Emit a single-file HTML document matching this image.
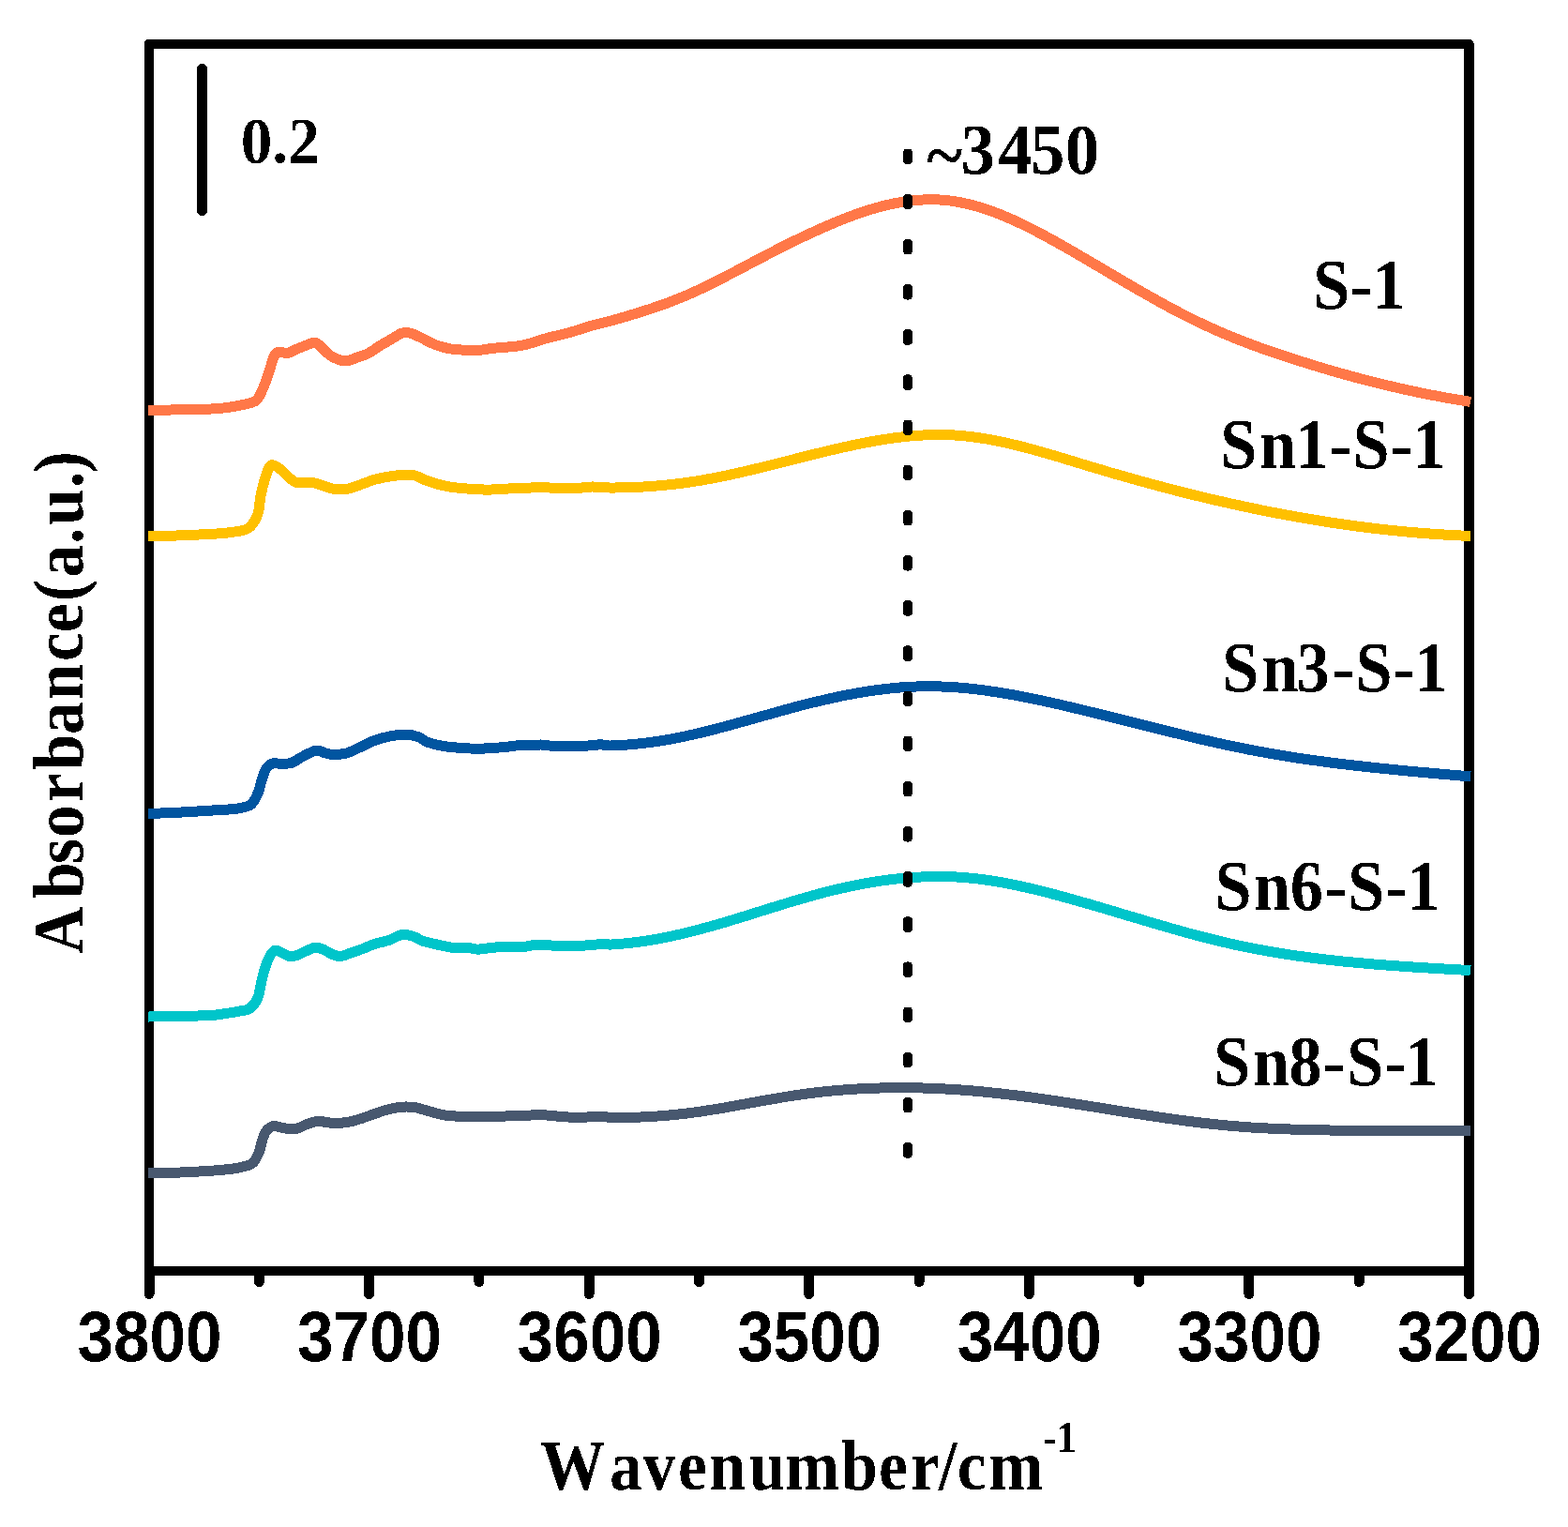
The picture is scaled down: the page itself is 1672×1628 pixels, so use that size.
<!DOCTYPE html>
<html><head><meta charset="utf-8"><style>html,body{margin:0;padding:0;background:#fff;}svg{display:block;}</style></head><body>
<svg width="1672" height="1628" viewBox="0 0 1672 1628" shape-rendering="crispEdges">
<rect width="1672" height="1628" fill="#fff"/>
<defs><filter id="al" x="0" y="0" width="1672" height="1628" filterUnits="userSpaceOnUse"><feComponentTransfer><feFuncA type="discrete" tableValues="0 1"/></feComponentTransfer></filter></defs>
<rect x="159" y="47" width="1407.5" height="1308" fill="none" stroke="#000" stroke-width="10.5" stroke-linejoin="round"/>
<line x1="159.00" y1="1355" x2="159.00" y2="1379.5" stroke="#000" stroke-width="11" stroke-linecap="round"/>
<line x1="276.29" y1="1355" x2="276.29" y2="1366.5" stroke="#000" stroke-width="11" stroke-linecap="round"/>
<line x1="393.58" y1="1355" x2="393.58" y2="1379.5" stroke="#000" stroke-width="11" stroke-linecap="round"/>
<line x1="510.88" y1="1355" x2="510.88" y2="1366.5" stroke="#000" stroke-width="11" stroke-linecap="round"/>
<line x1="628.17" y1="1355" x2="628.17" y2="1379.5" stroke="#000" stroke-width="11" stroke-linecap="round"/>
<line x1="745.46" y1="1355" x2="745.46" y2="1366.5" stroke="#000" stroke-width="11" stroke-linecap="round"/>
<line x1="862.75" y1="1355" x2="862.75" y2="1379.5" stroke="#000" stroke-width="11" stroke-linecap="round"/>
<line x1="980.04" y1="1355" x2="980.04" y2="1366.5" stroke="#000" stroke-width="11" stroke-linecap="round"/>
<line x1="1097.33" y1="1355" x2="1097.33" y2="1379.5" stroke="#000" stroke-width="11" stroke-linecap="round"/>
<line x1="1214.62" y1="1355" x2="1214.62" y2="1366.5" stroke="#000" stroke-width="11" stroke-linecap="round"/>
<line x1="1331.92" y1="1355" x2="1331.92" y2="1379.5" stroke="#000" stroke-width="11" stroke-linecap="round"/>
<line x1="1449.21" y1="1355" x2="1449.21" y2="1366.5" stroke="#000" stroke-width="11" stroke-linecap="round"/>
<line x1="1566.50" y1="1355" x2="1566.50" y2="1379.5" stroke="#000" stroke-width="11" stroke-linecap="round"/>
<path d="M158.0,437.1 C159.9,437.2 163.9,437.4 169.4,437.4 C174.9,437.3 183.7,436.9 190.9,436.8 C198.1,436.7 205.8,436.7 212.4,436.5 C219.0,436.3 224.8,436.1 230.4,435.7 C236.0,435.3 241.1,434.7 245.9,434.0 C250.7,433.3 255.3,432.3 259.1,431.5 C262.9,430.7 266.0,430.1 268.6,429.1 C271.2,428.1 272.5,428.4 274.6,425.5 C276.7,422.6 279.2,417.1 281.4,411.8 C283.6,406.5 286.1,398.8 287.8,393.8 C289.5,388.8 290.0,384.9 291.4,381.9 C292.8,378.8 293.4,376.4 296.0,375.5 C298.6,374.6 303.9,376.9 306.9,376.5 C309.9,376.1 311.1,374.4 314.1,373.1 C317.1,371.8 321.5,370.0 324.9,368.7 C328.3,367.4 332.0,365.7 334.4,365.4 C336.8,365.1 337.2,365.4 339.2,366.9 C341.2,368.3 343.8,371.8 346.4,374.1 C349.0,376.4 351.1,378.7 354.6,380.5 C358.2,382.3 363.3,384.9 367.7,385.0 C372.1,385.1 376.7,382.5 380.9,381.1 C385.1,379.7 388.8,378.7 392.8,376.7 C396.8,374.7 400.8,371.4 404.8,368.9 C408.8,366.4 412.8,364.2 416.8,361.9 C420.8,359.6 425.1,356.2 428.7,355.1 C432.3,354.0 434.9,354.6 438.3,355.4 C441.7,356.2 444.7,358.1 449.1,360.1 C453.5,362.2 459.4,365.7 464.6,367.7 C469.8,369.7 474.6,371.0 480.2,371.9 C485.8,372.8 492.7,373.1 498.1,373.3 C503.5,373.5 508.1,373.5 512.5,373.2 C516.9,372.9 520.6,371.7 524.4,371.3 C528.1,370.9 529.2,371.2 535.0,370.6 C540.8,370.0 550.9,369.5 558.9,367.8 C566.9,366.1 574.8,362.8 582.8,360.6 C590.8,358.4 598.8,356.9 606.8,354.7 C614.8,352.5 623.5,349.2 630.7,347.2 C637.9,345.2 645.8,343.5 650.0,342.4 C654.2,341.3 654.0,341.3 656.0,340.7 C658.0,340.2 660.0,339.6 662.0,339.0 C664.0,338.4 666.0,337.9 668.0,337.3 C670.0,336.7 672.0,336.1 674.0,335.5 C676.0,334.9 678.0,334.3 680.0,333.7 C682.0,333.0 684.0,332.4 686.0,331.8 C688.0,331.1 690.0,330.5 692.0,329.8 C694.0,329.2 696.0,328.5 698.0,327.8 C700.0,327.1 702.0,326.4 704.0,325.7 C706.0,325.0 708.0,324.3 710.0,323.6 C712.0,322.8 714.0,322.1 716.0,321.3 C718.0,320.6 720.0,319.8 722.0,319.0 C724.0,318.2 726.0,317.4 728.0,316.5 C730.0,315.7 732.0,314.9 734.0,314.0 C736.0,313.1 738.0,312.2 740.0,311.3 C742.0,310.4 744.0,309.5 746.0,308.6 C748.0,307.6 750.0,306.7 752.0,305.7 C754.0,304.8 756.0,303.8 758.0,302.8 C760.0,301.8 762.0,300.8 764.0,299.8 C766.0,298.8 768.0,297.8 770.0,296.7 C772.0,295.7 774.0,294.7 776.0,293.6 C778.0,292.6 780.0,291.6 782.0,290.5 C784.0,289.5 786.0,288.4 788.0,287.3 C790.0,286.3 792.0,285.2 794.0,284.2 C796.0,283.1 798.0,282.0 800.0,281.0 C802.0,279.9 804.0,278.9 806.0,277.8 C808.0,276.8 810.0,275.7 812.0,274.7 C814.0,273.6 816.0,272.6 818.0,271.6 C820.0,270.5 822.0,269.5 824.0,268.5 C826.0,267.4 828.0,266.4 830.0,265.4 C832.0,264.4 834.0,263.4 836.0,262.4 C838.0,261.4 840.0,260.4 842.0,259.4 C844.0,258.4 846.0,257.4 848.0,256.4 C850.0,255.5 852.0,254.5 854.0,253.5 C856.0,252.6 858.0,251.6 860.0,250.7 C862.0,249.8 864.0,248.8 866.0,247.9 C868.0,247.0 870.0,246.1 872.0,245.2 C874.0,244.3 876.0,243.4 878.0,242.5 C880.0,241.6 882.0,240.7 884.0,239.9 C886.0,239.0 888.0,238.2 890.0,237.4 C892.0,236.5 894.0,235.7 896.0,234.9 C898.0,234.1 900.0,233.3 902.0,232.5 C904.0,231.8 906.0,231.0 908.0,230.3 C910.0,229.5 912.0,228.8 914.0,228.1 C916.0,227.4 918.0,226.7 920.0,226.0 C922.0,225.4 924.0,224.7 926.0,224.1 C928.0,223.5 930.0,222.9 932.0,222.3 C934.0,221.7 936.0,221.1 938.0,220.6 C940.0,220.1 942.0,219.5 944.0,219.0 C946.0,218.6 948.0,218.1 950.0,217.7 C952.0,217.2 954.0,216.8 956.0,216.4 C958.0,216.0 960.0,215.7 962.0,215.4 C964.0,215.0 966.0,214.7 968.0,214.5 C970.0,214.2 972.0,214.0 974.0,213.7 C976.0,213.5 978.0,213.4 980.0,213.2 C982.0,213.1 984.0,213.0 986.0,212.9 C988.0,212.8 990.0,212.8 992.0,212.8 C994.0,212.7 996.0,212.8 998.0,212.8 C1000.0,212.9 1002.0,213.0 1004.0,213.1 C1006.0,213.3 1008.0,213.5 1010.0,213.7 C1012.0,213.9 1014.0,214.1 1016.0,214.4 C1018.0,214.7 1020.0,215.0 1022.0,215.4 C1024.0,215.8 1026.0,216.2 1028.0,216.6 C1030.0,217.0 1032.0,217.5 1034.0,218.0 C1036.0,218.5 1038.0,219.0 1040.0,219.6 C1042.0,220.1 1044.0,220.7 1046.0,221.3 C1048.0,222.0 1050.0,222.6 1052.0,223.3 C1054.0,224.0 1056.0,224.7 1058.0,225.4 C1060.0,226.1 1062.0,226.9 1064.0,227.6 C1066.0,228.4 1068.0,229.2 1070.0,230.1 C1072.0,230.9 1074.0,231.7 1076.0,232.6 C1078.0,233.5 1080.0,234.4 1082.0,235.3 C1084.0,236.2 1086.0,237.1 1088.0,238.1 C1090.0,239.0 1092.0,240.0 1094.0,241.0 C1096.0,242.0 1098.0,243.0 1100.0,244.0 C1102.0,245.0 1104.0,246.0 1106.0,247.1 C1108.0,248.1 1110.0,249.2 1112.0,250.3 C1114.0,251.3 1116.0,252.4 1118.0,253.5 C1120.0,254.6 1122.0,255.7 1124.0,256.8 C1126.0,257.9 1128.0,259.0 1130.0,260.2 C1132.0,261.3 1134.0,262.4 1136.0,263.6 C1138.0,264.7 1140.0,265.9 1142.0,267.0 C1144.0,268.2 1146.0,269.3 1148.0,270.5 C1150.0,271.7 1152.0,272.8 1154.0,274.0 C1156.0,275.2 1158.0,276.3 1160.0,277.5 C1162.0,278.7 1164.0,279.8 1166.0,281.0 C1168.0,282.2 1170.0,283.4 1172.0,284.6 C1174.0,285.7 1176.0,286.9 1178.0,288.1 C1180.0,289.3 1182.0,290.5 1184.0,291.6 C1186.0,292.8 1188.0,294.0 1190.0,295.2 C1192.0,296.3 1194.0,297.5 1196.0,298.7 C1198.0,299.9 1200.0,301.0 1202.0,302.2 C1204.0,303.4 1206.0,304.5 1208.0,305.7 C1210.0,306.8 1212.0,308.0 1214.0,309.2 C1216.0,310.3 1218.0,311.4 1220.0,312.6 C1222.0,313.7 1224.0,314.9 1226.0,316.0 C1228.0,317.1 1230.0,318.2 1232.0,319.4 C1234.0,320.5 1236.0,321.6 1238.0,322.7 C1240.0,323.8 1242.0,324.9 1244.0,326.0 C1246.0,327.1 1248.0,328.1 1250.0,329.2 C1252.0,330.3 1254.0,331.3 1256.0,332.4 C1258.0,333.4 1260.0,334.4 1262.0,335.5 C1264.0,336.5 1266.0,337.5 1268.0,338.5 C1270.0,339.5 1272.0,340.5 1274.0,341.5 C1276.0,342.5 1278.0,343.4 1280.0,344.4 C1282.0,345.3 1284.0,346.3 1286.0,347.2 C1288.0,348.1 1290.0,349.0 1292.0,349.9 C1294.0,350.8 1296.0,351.7 1298.0,352.6 C1300.0,353.5 1302.0,354.4 1304.0,355.2 C1306.0,356.1 1308.0,356.9 1310.0,357.7 C1312.0,358.6 1314.0,359.4 1316.0,360.2 C1318.0,361.0 1320.0,361.8 1322.0,362.6 C1324.0,363.4 1326.0,364.1 1328.0,364.9 C1330.0,365.7 1332.0,366.4 1334.0,367.2 C1336.0,367.9 1338.0,368.7 1340.0,369.4 C1342.0,370.1 1344.0,370.8 1346.0,371.6 C1348.0,372.3 1350.0,373.0 1352.0,373.7 C1354.0,374.4 1356.0,375.1 1358.0,375.7 C1360.0,376.4 1362.0,377.1 1364.0,377.8 C1366.0,378.5 1368.0,379.1 1370.0,379.8 C1372.0,380.4 1374.0,381.1 1376.0,381.7 C1378.0,382.4 1380.0,383.0 1382.0,383.7 C1384.0,384.3 1386.0,384.9 1388.0,385.6 C1390.0,386.2 1392.0,386.8 1394.0,387.4 C1396.0,388.1 1398.0,388.7 1400.0,389.3 C1402.0,389.9 1404.0,390.5 1406.0,391.1 C1408.0,391.7 1410.0,392.3 1412.0,392.9 C1414.0,393.5 1416.0,394.1 1418.0,394.7 C1420.0,395.2 1422.0,395.8 1424.0,396.4 C1426.0,397.0 1428.0,397.5 1430.0,398.1 C1432.0,398.7 1434.0,399.2 1436.0,399.8 C1438.0,400.3 1440.0,400.9 1442.0,401.4 C1444.0,402.0 1446.0,402.5 1448.0,403.0 C1450.0,403.6 1452.0,404.1 1454.0,404.6 C1456.0,405.1 1458.0,405.6 1460.0,406.2 C1462.0,406.7 1464.0,407.2 1466.0,407.7 C1468.0,408.2 1470.0,408.7 1472.0,409.2 C1474.0,409.7 1476.0,410.1 1478.0,410.6 C1480.0,411.1 1482.0,411.6 1484.0,412.0 C1486.0,412.5 1488.0,413.0 1490.0,413.4 C1492.0,413.9 1494.0,414.3 1496.0,414.8 C1498.0,415.2 1500.0,415.7 1502.0,416.1 C1504.0,416.5 1506.0,417.0 1508.0,417.4 C1510.0,417.8 1512.0,418.2 1514.0,418.6 C1516.0,419.1 1518.0,419.5 1520.0,419.9 C1522.0,420.3 1524.0,420.7 1526.0,421.1 C1528.0,421.4 1530.0,421.8 1532.0,422.2 C1534.0,422.6 1536.0,423.0 1538.0,423.3 C1540.0,423.7 1542.0,424.0 1544.0,424.4 C1546.0,424.8 1548.0,425.1 1550.0,425.4 C1552.0,425.8 1554.0,426.1 1556.0,426.4 C1558.0,426.8 1560.0,427.1 1562.0,427.4 C1564.0,427.7 1567.0,428.2 1568.0,428.4" fill="none" stroke="#FF7848" stroke-width="11" stroke-linejoin="round" stroke-linecap="butt"/>
<path d="M158.0,571.3 C161.5,571.3 171.8,571.3 178.9,571.2 C186.0,571.1 193.5,570.9 200.5,570.6 C207.5,570.3 214.8,569.8 220.8,569.5 C226.8,569.2 231.3,569.1 236.3,568.7 C241.3,568.3 246.7,567.5 250.7,566.9 C254.7,566.3 257.5,566.1 260.3,565.1 C263.1,564.1 264.9,564.0 267.4,561.1 C269.8,558.2 273.3,553.0 275.0,547.8 C276.7,542.6 276.8,535.2 277.8,529.8 C278.8,524.4 279.9,519.9 281.1,515.5 C282.3,511.1 283.4,506.8 284.8,503.5 C286.2,500.2 287.3,496.3 289.6,495.7 C291.9,495.1 295.4,497.7 298.5,499.9 C301.6,502.1 305.1,506.7 308.1,509.1 C311.1,511.5 312.5,513.6 316.5,514.5 C320.5,515.4 327.8,513.9 332.0,514.3 C336.2,514.7 338.0,515.8 341.6,516.9 C345.2,518.0 350.6,520.0 353.6,520.8 C356.6,521.6 356.4,521.8 359.4,521.8 C362.3,521.8 367.1,522.0 371.3,521.1 C375.5,520.2 379.9,518.3 384.5,516.7 C389.1,515.1 393.4,513.0 398.8,511.5 C404.2,510.0 411.0,508.6 416.8,507.7 C422.6,506.8 429.1,506.2 433.5,506.1 C437.9,506.0 439.9,506.2 443.1,507.1 C446.3,508.0 448.1,509.8 452.7,511.5 C457.3,513.2 464.6,515.8 470.6,517.2 C476.6,518.7 481.5,519.4 488.5,520.2 C495.5,521.0 506.5,521.6 512.5,521.9 C518.5,522.2 520.6,522.1 524.4,522.0 C528.1,521.9 529.2,521.6 535.0,521.3 C540.8,521.0 551.9,520.7 558.9,520.4 C565.9,520.1 570.9,519.5 576.9,519.5 C582.9,519.5 588.8,520.4 594.8,520.6 C600.8,520.8 606.8,521.1 612.8,520.8 C618.8,520.5 624.5,519.1 630.7,519.0 C636.9,518.9 645.8,519.9 650.0,520.0 C654.2,520.2 654.0,520.0 656.0,520.0 C658.0,520.0 660.0,520.0 662.0,519.9 C664.0,519.9 666.0,519.8 668.0,519.8 C670.0,519.7 672.0,519.6 674.0,519.6 C676.0,519.5 678.0,519.4 680.0,519.3 C682.0,519.2 684.0,519.1 686.0,519.0 C688.0,518.9 690.0,518.8 692.0,518.6 C694.0,518.5 696.0,518.4 698.0,518.2 C700.0,518.0 702.0,517.9 704.0,517.7 C706.0,517.5 708.0,517.3 710.0,517.1 C712.0,516.9 714.0,516.7 716.0,516.5 C718.0,516.3 720.0,516.1 722.0,515.8 C724.0,515.6 726.0,515.3 728.0,515.1 C730.0,514.8 732.0,514.5 734.0,514.2 C736.0,514.0 738.0,513.7 740.0,513.3 C742.0,513.0 744.0,512.7 746.0,512.4 C748.0,512.0 750.0,511.7 752.0,511.3 C754.0,511.0 756.0,510.6 758.0,510.2 C760.0,509.9 762.0,509.5 764.0,509.1 C766.0,508.7 768.0,508.3 770.0,507.9 C772.0,507.5 774.0,507.1 776.0,506.7 C778.0,506.2 780.0,505.8 782.0,505.4 C784.0,504.9 786.0,504.5 788.0,504.0 C790.0,503.6 792.0,503.1 794.0,502.7 C796.0,502.2 798.0,501.7 800.0,501.3 C802.0,500.8 804.0,500.3 806.0,499.8 C808.0,499.3 810.0,498.9 812.0,498.4 C814.0,497.9 816.0,497.4 818.0,496.9 C820.0,496.4 822.0,495.9 824.0,495.4 C826.0,494.9 828.0,494.4 830.0,493.9 C832.0,493.4 834.0,492.9 836.0,492.4 C838.0,491.9 840.0,491.4 842.0,490.9 C844.0,490.3 846.0,489.8 848.0,489.3 C850.0,488.8 852.0,488.3 854.0,487.8 C856.0,487.3 858.0,486.8 860.0,486.3 C862.0,485.8 864.0,485.3 866.0,484.8 C868.0,484.3 870.0,483.8 872.0,483.3 C874.0,482.8 876.0,482.3 878.0,481.9 C880.0,481.4 882.0,480.9 884.0,480.4 C886.0,479.9 888.0,479.5 890.0,479.0 C892.0,478.5 894.0,478.1 896.0,477.6 C898.0,477.2 900.0,476.7 902.0,476.3 C904.0,475.8 906.0,475.4 908.0,475.0 C910.0,474.5 912.0,474.1 914.0,473.7 C916.0,473.3 918.0,472.9 920.0,472.5 C922.0,472.1 924.0,471.7 926.0,471.4 C928.0,471.0 930.0,470.6 932.0,470.3 C934.0,469.9 936.0,469.6 938.0,469.2 C940.0,468.9 942.0,468.6 944.0,468.3 C946.0,468.0 948.0,467.7 950.0,467.4 C952.0,467.1 954.0,466.8 956.0,466.6 C958.0,466.3 960.0,466.1 962.0,465.9 C964.0,465.6 966.0,465.4 968.0,465.2 C970.0,465.0 972.0,464.9 974.0,464.7 C976.0,464.5 978.0,464.4 980.0,464.3 C982.0,464.1 984.0,464.0 986.0,463.9 C988.0,463.8 990.0,463.8 992.0,463.7 C994.0,463.6 996.0,463.6 998.0,463.6 C1000.0,463.6 1002.0,463.5 1004.0,463.6 C1006.0,463.6 1008.0,463.6 1010.0,463.7 C1012.0,463.7 1014.0,463.8 1016.0,463.9 C1018.0,464.0 1020.0,464.2 1022.0,464.3 C1024.0,464.4 1026.0,464.6 1028.0,464.8 C1030.0,465.0 1032.0,465.2 1034.0,465.4 C1036.0,465.7 1038.0,465.9 1040.0,466.2 C1042.0,466.5 1044.0,466.8 1046.0,467.1 C1048.0,467.4 1050.0,467.7 1052.0,468.0 C1054.0,468.4 1056.0,468.7 1058.0,469.1 C1060.0,469.5 1062.0,469.9 1064.0,470.3 C1066.0,470.7 1068.0,471.1 1070.0,471.5 C1072.0,472.0 1074.0,472.4 1076.0,472.9 C1078.0,473.3 1080.0,473.8 1082.0,474.3 C1084.0,474.8 1086.0,475.3 1088.0,475.8 C1090.0,476.3 1092.0,476.8 1094.0,477.3 C1096.0,477.8 1098.0,478.4 1100.0,478.9 C1102.0,479.5 1104.0,480.0 1106.0,480.6 C1108.0,481.1 1110.0,481.7 1112.0,482.3 C1114.0,482.8 1116.0,483.4 1118.0,484.0 C1120.0,484.6 1122.0,485.2 1124.0,485.8 C1126.0,486.3 1128.0,486.9 1130.0,487.5 C1132.0,488.1 1134.0,488.8 1136.0,489.4 C1138.0,490.0 1140.0,490.6 1142.0,491.2 C1144.0,491.8 1146.0,492.4 1148.0,493.0 C1150.0,493.6 1152.0,494.2 1154.0,494.8 C1156.0,495.4 1158.0,496.0 1160.0,496.6 C1162.0,497.3 1164.0,497.9 1166.0,498.5 C1168.0,499.1 1170.0,499.6 1172.0,500.2 C1174.0,500.8 1176.0,501.4 1178.0,502.0 C1180.0,502.6 1182.0,503.2 1184.0,503.8 C1186.0,504.4 1188.0,504.9 1190.0,505.5 C1192.0,506.1 1194.0,506.7 1196.0,507.2 C1198.0,507.8 1200.0,508.4 1202.0,508.9 C1204.0,509.5 1206.0,510.1 1208.0,510.6 C1210.0,511.2 1212.0,511.7 1214.0,512.3 C1216.0,512.8 1218.0,513.4 1220.0,513.9 C1222.0,514.5 1224.0,515.0 1226.0,515.6 C1228.0,516.1 1230.0,516.7 1232.0,517.2 C1234.0,517.7 1236.0,518.3 1238.0,518.8 C1240.0,519.3 1242.0,519.8 1244.0,520.4 C1246.0,520.9 1248.0,521.4 1250.0,521.9 C1252.0,522.4 1254.0,522.9 1256.0,523.5 C1258.0,524.0 1260.0,524.5 1262.0,525.0 C1264.0,525.5 1266.0,526.0 1268.0,526.5 C1270.0,527.0 1272.0,527.5 1274.0,528.0 C1276.0,528.4 1278.0,528.9 1280.0,529.4 C1282.0,529.9 1284.0,530.4 1286.0,530.9 C1288.0,531.3 1290.0,531.8 1292.0,532.3 C1294.0,532.7 1296.0,533.2 1298.0,533.7 C1300.0,534.1 1302.0,534.6 1304.0,535.0 C1306.0,535.5 1308.0,535.9 1310.0,536.4 C1312.0,536.8 1314.0,537.3 1316.0,537.7 C1318.0,538.2 1320.0,538.6 1322.0,539.0 C1324.0,539.5 1326.0,539.9 1328.0,540.3 C1330.0,540.8 1332.0,541.2 1334.0,541.6 C1336.0,542.0 1338.0,542.4 1340.0,542.8 C1342.0,543.3 1344.0,543.7 1346.0,544.1 C1348.0,544.5 1350.0,544.9 1352.0,545.3 C1354.0,545.7 1356.0,546.0 1358.0,546.4 C1360.0,546.8 1362.0,547.2 1364.0,547.6 C1366.0,548.0 1368.0,548.3 1370.0,548.7 C1372.0,549.1 1374.0,549.5 1376.0,549.8 C1378.0,550.2 1380.0,550.5 1382.0,550.9 C1384.0,551.3 1386.0,551.6 1388.0,552.0 C1390.0,552.3 1392.0,552.7 1394.0,553.0 C1396.0,553.3 1398.0,553.7 1400.0,554.0 C1402.0,554.3 1404.0,554.7 1406.0,555.0 C1408.0,555.3 1410.0,555.6 1412.0,555.9 C1414.0,556.3 1416.0,556.6 1418.0,556.9 C1420.0,557.2 1422.0,557.5 1424.0,557.8 C1426.0,558.1 1428.0,558.4 1430.0,558.7 C1432.0,559.0 1434.0,559.2 1436.0,559.5 C1438.0,559.8 1440.0,560.1 1442.0,560.4 C1444.0,560.6 1446.0,560.9 1448.0,561.2 C1450.0,561.4 1452.0,561.7 1454.0,561.9 C1456.0,562.2 1458.0,562.4 1460.0,562.7 C1462.0,562.9 1464.0,563.2 1466.0,563.4 C1468.0,563.7 1470.0,563.9 1472.0,564.1 C1474.0,564.3 1476.0,564.6 1478.0,564.8 C1480.0,565.0 1482.0,565.2 1484.0,565.4 C1486.0,565.6 1488.0,565.8 1490.0,566.0 C1492.0,566.2 1494.0,566.4 1496.0,566.6 C1498.0,566.8 1500.0,567.0 1502.0,567.2 C1504.0,567.4 1506.0,567.5 1508.0,567.7 C1510.0,567.9 1512.0,568.1 1514.0,568.2 C1516.0,568.4 1518.0,568.5 1520.0,568.7 C1522.0,568.8 1524.0,569.0 1526.0,569.1 C1528.0,569.3 1530.0,569.4 1532.0,569.5 C1534.0,569.7 1536.0,569.8 1538.0,569.9 C1540.0,570.1 1542.0,570.2 1544.0,570.3 C1546.0,570.4 1548.0,570.5 1550.0,570.6 C1552.0,570.7 1554.0,570.8 1556.0,570.9 C1558.0,571.0 1560.0,571.1 1562.0,571.2 C1564.0,571.2 1567.0,571.4 1568.0,571.4" fill="none" stroke="#FFC000" stroke-width="11" stroke-linejoin="round" stroke-linecap="butt"/>
<path d="M158.0,867.5 C161.5,867.4 171.4,867.0 178.9,866.7 C186.4,866.4 194.8,866.0 202.8,865.5 C210.8,865.0 218.8,864.5 226.8,864.0 C234.8,863.5 244.7,863.1 250.7,862.4 C256.7,861.7 259.7,860.8 262.7,859.9 C265.7,859.0 266.4,859.6 268.6,856.9 C270.8,854.2 274.1,847.9 275.8,843.7 C277.5,839.5 277.7,835.8 279.0,831.8 C280.3,827.8 281.7,822.8 283.6,819.8 C285.5,816.8 287.7,815.0 290.2,814.1 C292.7,813.2 295.1,814.2 298.5,814.1 C301.9,814.0 306.5,814.7 310.5,813.5 C314.5,812.3 318.1,808.9 322.5,806.7 C326.9,804.5 332.8,801.0 336.8,800.3 C340.8,799.6 343.6,802.0 346.4,802.7 C349.2,803.4 349.9,804.2 353.6,804.3 C357.4,804.4 364.3,804.2 368.9,803.2 C373.4,802.2 375.9,800.4 380.9,798.1 C385.9,795.9 392.8,791.9 398.8,789.7 C404.8,787.5 411.0,785.8 416.8,784.7 C422.6,783.6 428.5,782.9 433.5,783.1 C438.5,783.3 443.1,784.6 446.7,785.9 C450.3,787.2 451.0,789.4 455.0,790.9 C459.0,792.4 465.0,794.0 470.6,795.1 C476.2,796.2 482.5,796.7 488.5,797.2 C494.5,797.7 500.5,798.1 506.5,798.2 C512.5,798.3 518.2,798.0 524.4,797.6 C530.6,797.2 539.1,796.4 543.6,795.9 C548.1,795.4 547.8,795.1 551.5,794.9 C555.2,794.7 561.8,795.0 566.0,794.9 C570.2,794.8 572.8,793.9 577.0,794.0 C581.2,794.1 585.7,795.2 591.0,795.5 C596.3,795.8 603.6,796.0 609.0,796.0 C614.4,796.0 618.5,795.6 623.3,795.3 C628.1,795.0 634.9,794.3 637.7,794.0 C640.5,793.7 638.0,793.5 640.0,793.7 C642.0,793.9 647.3,794.8 650.0,795.0 C652.7,795.1 654.0,794.8 656.0,794.7 C658.0,794.7 660.0,794.6 662.0,794.4 C664.0,794.3 666.0,794.2 668.0,794.1 C670.0,793.9 672.0,793.7 674.0,793.6 C676.0,793.4 678.0,793.2 680.0,793.0 C682.0,792.8 684.0,792.6 686.0,792.4 C688.0,792.1 690.0,791.9 692.0,791.6 C694.0,791.4 696.0,791.1 698.0,790.8 C700.0,790.5 702.0,790.2 704.0,789.9 C706.0,789.6 708.0,789.3 710.0,788.9 C712.0,788.6 714.0,788.2 716.0,787.9 C718.0,787.5 720.0,787.1 722.0,786.7 C724.0,786.3 726.0,785.9 728.0,785.5 C730.0,785.1 732.0,784.7 734.0,784.2 C736.0,783.8 738.0,783.3 740.0,782.9 C742.0,782.4 744.0,782.0 746.0,781.5 C748.0,781.0 750.0,780.5 752.0,780.0 C754.0,779.5 756.0,779.0 758.0,778.5 C760.0,778.0 762.0,777.5 764.0,777.0 C766.0,776.5 768.0,775.9 770.0,775.4 C772.0,774.9 774.0,774.3 776.0,773.8 C778.0,773.3 780.0,772.7 782.0,772.2 C784.0,771.6 786.0,771.1 788.0,770.5 C790.0,769.9 792.0,769.4 794.0,768.8 C796.0,768.3 798.0,767.7 800.0,767.1 C802.0,766.6 804.0,766.0 806.0,765.4 C808.0,764.9 810.0,764.3 812.0,763.7 C814.0,763.2 816.0,762.6 818.0,762.1 C820.0,761.5 822.0,760.9 824.0,760.4 C826.0,759.8 828.0,759.3 830.0,758.7 C832.0,758.1 834.0,757.6 836.0,757.0 C838.0,756.5 840.0,756.0 842.0,755.4 C844.0,754.9 846.0,754.3 848.0,753.8 C850.0,753.3 852.0,752.8 854.0,752.2 C856.0,751.7 858.0,751.2 860.0,750.7 C862.0,750.2 864.0,749.7 866.0,749.2 C868.0,748.7 870.0,748.2 872.0,747.8 C874.0,747.3 876.0,746.8 878.0,746.4 C880.0,745.9 882.0,745.4 884.0,745.0 C886.0,744.5 888.0,744.1 890.0,743.7 C892.0,743.2 894.0,742.8 896.0,742.4 C898.0,742.0 900.0,741.6 902.0,741.2 C904.0,740.8 906.0,740.4 908.0,740.1 C910.0,739.7 912.0,739.3 914.0,739.0 C916.0,738.6 918.0,738.3 920.0,737.9 C922.0,737.6 924.0,737.3 926.0,737.0 C928.0,736.7 930.0,736.4 932.0,736.1 C934.0,735.8 936.0,735.6 938.0,735.3 C940.0,735.0 942.0,734.8 944.0,734.6 C946.0,734.3 948.0,734.1 950.0,733.9 C952.0,733.7 954.0,733.5 956.0,733.3 C958.0,733.1 960.0,733.0 962.0,732.8 C964.0,732.7 966.0,732.5 968.0,732.4 C970.0,732.3 972.0,732.2 974.0,732.1 C976.0,732.0 978.0,732.0 980.0,731.9 C982.0,731.8 984.0,731.8 986.0,731.8 C988.0,731.7 990.0,731.7 992.0,731.7 C994.0,731.8 996.0,731.8 998.0,731.8 C1000.0,731.9 1002.0,731.9 1004.0,732.0 C1006.0,732.1 1008.0,732.1 1010.0,732.2 C1012.0,732.3 1014.0,732.5 1016.0,732.6 C1018.0,732.7 1020.0,732.9 1022.0,733.0 C1024.0,733.2 1026.0,733.3 1028.0,733.5 C1030.0,733.7 1032.0,733.9 1034.0,734.1 C1036.0,734.3 1038.0,734.5 1040.0,734.8 C1042.0,735.0 1044.0,735.2 1046.0,735.5 C1048.0,735.7 1050.0,736.0 1052.0,736.3 C1054.0,736.6 1056.0,736.9 1058.0,737.2 C1060.0,737.4 1062.0,737.8 1064.0,738.1 C1066.0,738.4 1068.0,738.7 1070.0,739.1 C1072.0,739.4 1074.0,739.7 1076.0,740.1 C1078.0,740.4 1080.0,740.8 1082.0,741.2 C1084.0,741.5 1086.0,741.9 1088.0,742.3 C1090.0,742.7 1092.0,743.1 1094.0,743.5 C1096.0,743.9 1098.0,744.3 1100.0,744.7 C1102.0,745.1 1104.0,745.5 1106.0,745.9 C1108.0,746.4 1110.0,746.8 1112.0,747.2 C1114.0,747.7 1116.0,748.1 1118.0,748.5 C1120.0,749.0 1122.0,749.4 1124.0,749.9 C1126.0,750.3 1128.0,750.8 1130.0,751.2 C1132.0,751.7 1134.0,752.2 1136.0,752.6 C1138.0,753.1 1140.0,753.6 1142.0,754.0 C1144.0,754.5 1146.0,755.0 1148.0,755.5 C1150.0,755.9 1152.0,756.4 1154.0,756.9 C1156.0,757.4 1158.0,757.9 1160.0,758.4 C1162.0,758.8 1164.0,759.3 1166.0,759.8 C1168.0,760.3 1170.0,760.8 1172.0,761.3 C1174.0,761.8 1176.0,762.3 1178.0,762.8 C1180.0,763.3 1182.0,763.8 1184.0,764.3 C1186.0,764.8 1188.0,765.3 1190.0,765.8 C1192.0,766.3 1194.0,766.8 1196.0,767.3 C1198.0,767.8 1200.0,768.3 1202.0,768.8 C1204.0,769.3 1206.0,769.8 1208.0,770.3 C1210.0,770.8 1212.0,771.3 1214.0,771.8 C1216.0,772.3 1218.0,772.8 1220.0,773.3 C1222.0,773.8 1224.0,774.3 1226.0,774.8 C1228.0,775.3 1230.0,775.8 1232.0,776.3 C1234.0,776.8 1236.0,777.3 1238.0,777.8 C1240.0,778.3 1242.0,778.8 1244.0,779.3 C1246.0,779.8 1248.0,780.3 1250.0,780.8 C1252.0,781.3 1254.0,781.8 1256.0,782.2 C1258.0,782.7 1260.0,783.2 1262.0,783.7 C1264.0,784.2 1266.0,784.7 1268.0,785.1 C1270.0,785.6 1272.0,786.1 1274.0,786.6 C1276.0,787.0 1278.0,787.5 1280.0,788.0 C1282.0,788.4 1284.0,788.9 1286.0,789.3 C1288.0,789.8 1290.0,790.3 1292.0,790.7 C1294.0,791.2 1296.0,791.6 1298.0,792.1 C1300.0,792.5 1302.0,792.9 1304.0,793.4 C1306.0,793.8 1308.0,794.2 1310.0,794.7 C1312.0,795.1 1314.0,795.5 1316.0,795.9 C1318.0,796.4 1320.0,796.8 1322.0,797.2 C1324.0,797.6 1326.0,798.0 1328.0,798.4 C1330.0,798.8 1332.0,799.2 1334.0,799.6 C1336.0,800.0 1338.0,800.3 1340.0,800.7 C1342.0,801.1 1344.0,801.5 1346.0,801.8 C1348.0,802.2 1350.0,802.6 1352.0,802.9 C1354.0,803.3 1356.0,803.6 1358.0,804.0 C1360.0,804.3 1362.0,804.6 1364.0,805.0 C1366.0,805.3 1368.0,805.6 1370.0,806.0 C1372.0,806.3 1374.0,806.6 1376.0,806.9 C1378.0,807.2 1380.0,807.5 1382.0,807.9 C1384.0,808.2 1386.0,808.5 1388.0,808.8 C1390.0,809.1 1392.0,809.3 1394.0,809.6 C1396.0,809.9 1398.0,810.2 1400.0,810.5 C1402.0,810.8 1404.0,811.0 1406.0,811.3 C1408.0,811.6 1410.0,811.9 1412.0,812.1 C1414.0,812.4 1416.0,812.7 1418.0,812.9 C1420.0,813.2 1422.0,813.4 1424.0,813.7 C1426.0,813.9 1428.0,814.2 1430.0,814.4 C1432.0,814.7 1434.0,814.9 1436.0,815.1 C1438.0,815.4 1440.0,815.6 1442.0,815.8 C1444.0,816.1 1446.0,816.3 1448.0,816.5 C1450.0,816.8 1452.0,817.0 1454.0,817.2 C1456.0,817.4 1458.0,817.6 1460.0,817.8 C1462.0,818.1 1464.0,818.3 1466.0,818.5 C1468.0,818.7 1470.0,818.9 1472.0,819.1 C1474.0,819.3 1476.0,819.5 1478.0,819.7 C1480.0,819.9 1482.0,820.1 1484.0,820.3 C1486.0,820.5 1488.0,820.7 1490.0,820.9 C1492.0,821.1 1494.0,821.3 1496.0,821.5 C1498.0,821.7 1500.0,821.9 1502.0,822.1 C1504.0,822.2 1506.0,822.4 1508.0,822.6 C1510.0,822.8 1512.0,823.0 1514.0,823.2 C1516.0,823.3 1518.0,823.5 1520.0,823.7 C1522.0,823.9 1524.0,824.1 1526.0,824.2 C1528.0,824.4 1530.0,824.6 1532.0,824.8 C1534.0,825.0 1536.0,825.1 1538.0,825.3 C1540.0,825.5 1542.0,825.7 1544.0,825.8 C1546.0,826.0 1548.0,826.2 1550.0,826.4 C1552.0,826.5 1554.0,826.7 1556.0,826.9 C1558.0,827.1 1560.0,827.2 1562.0,827.4 C1564.0,827.6 1567.0,827.8 1568.0,827.9" fill="none" stroke="#0155A0" stroke-width="11" stroke-linejoin="round" stroke-linecap="butt"/>
<path d="M158.0,1084.1 C160.5,1083.9 167.4,1083.2 172.9,1083.2 C178.4,1083.2 184.9,1083.9 190.9,1083.9 C196.9,1083.9 202.8,1083.3 208.8,1083.1 C214.8,1082.8 220.8,1082.9 226.8,1082.4 C232.8,1081.9 239.7,1080.7 244.7,1079.9 C249.7,1079.1 253.1,1078.6 256.7,1077.8 C260.3,1077.0 263.2,1077.5 266.2,1075.2 C269.2,1072.9 272.8,1068.6 274.9,1063.7 C277.0,1058.8 277.6,1051.4 279.0,1045.8 C280.4,1040.2 281.6,1034.8 283.2,1030.2 C284.8,1025.6 286.6,1021.1 288.4,1018.3 C290.2,1015.4 291.5,1013.4 293.8,1013.1 C296.1,1012.8 299.5,1015.4 302.1,1016.5 C304.7,1017.6 306.9,1019.4 309.3,1019.7 C311.7,1020.0 313.7,1019.4 316.5,1018.5 C319.3,1017.6 322.9,1015.5 326.1,1014.1 C329.3,1012.7 332.6,1010.7 335.6,1010.3 C338.6,1009.9 341.0,1010.8 344.0,1011.9 C347.0,1013.0 350.5,1015.8 353.6,1017.1 C356.8,1018.4 359.3,1019.8 362.9,1019.6 C366.4,1019.4 370.9,1017.1 374.9,1015.7 C378.9,1014.4 382.9,1013.0 386.9,1011.5 C390.9,1010.0 394.2,1008.1 398.8,1006.6 C403.4,1005.1 409.4,1004.2 414.4,1002.5 C419.4,1000.8 424.3,997.3 428.7,996.6 C433.1,995.9 437.1,997.2 440.7,998.3 C444.3,999.4 446.3,1001.7 450.3,1003.1 C454.3,1004.5 459.2,1005.5 464.6,1006.7 C470.0,1007.9 476.6,1009.6 482.6,1010.3 C488.6,1011.0 495.9,1010.5 500.5,1010.8 C505.1,1011.1 506.1,1012.2 510.1,1012.1 C514.1,1012.0 520.2,1010.7 524.4,1010.3 C528.5,1009.9 529.2,1009.9 535.0,1009.8 C540.8,1009.6 552.9,1009.8 558.9,1009.4 C564.9,1009.0 564.9,1007.6 570.9,1007.4 C576.9,1007.2 586.8,1008.1 594.8,1008.3 C602.8,1008.4 610.7,1008.6 618.7,1008.3 C626.7,1008.0 637.5,1006.7 642.7,1006.5 C647.9,1006.3 647.8,1007.0 650.0,1007.1 C652.2,1007.1 654.0,1006.8 656.0,1006.7 C658.0,1006.6 660.0,1006.4 662.0,1006.3 C664.0,1006.1 666.0,1005.9 668.0,1005.7 C670.0,1005.5 672.0,1005.3 674.0,1005.1 C676.0,1004.8 678.0,1004.6 680.0,1004.3 C682.0,1004.1 684.0,1003.8 686.0,1003.5 C688.0,1003.2 690.0,1002.9 692.0,1002.6 C694.0,1002.2 696.0,1001.9 698.0,1001.6 C700.0,1001.2 702.0,1000.8 704.0,1000.5 C706.0,1000.1 708.0,999.7 710.0,999.3 C712.0,998.9 714.0,998.5 716.0,998.1 C718.0,997.6 720.0,997.2 722.0,996.7 C724.0,996.3 726.0,995.8 728.0,995.4 C730.0,994.9 732.0,994.4 734.0,993.9 C736.0,993.4 738.0,992.9 740.0,992.4 C742.0,991.9 744.0,991.4 746.0,990.9 C748.0,990.3 750.0,989.8 752.0,989.2 C754.0,988.7 756.0,988.1 758.0,987.6 C760.0,987.0 762.0,986.5 764.0,985.9 C766.0,985.3 768.0,984.7 770.0,984.1 C772.0,983.5 774.0,983.0 776.0,982.4 C778.0,981.8 780.0,981.2 782.0,980.5 C784.0,979.9 786.0,979.3 788.0,978.7 C790.0,978.1 792.0,977.5 794.0,976.9 C796.0,976.2 798.0,975.6 800.0,975.0 C802.0,974.4 804.0,973.7 806.0,973.1 C808.0,972.5 810.0,971.9 812.0,971.2 C814.0,970.6 816.0,970.0 818.0,969.4 C820.0,968.7 822.0,968.1 824.0,967.5 C826.0,966.9 828.0,966.2 830.0,965.6 C832.0,965.0 834.0,964.4 836.0,963.8 C838.0,963.2 840.0,962.5 842.0,961.9 C844.0,961.3 846.0,960.7 848.0,960.1 C850.0,959.6 852.0,959.0 854.0,958.4 C856.0,957.8 858.0,957.2 860.0,956.7 C862.0,956.1 864.0,955.5 866.0,955.0 C868.0,954.4 870.0,953.9 872.0,953.3 C874.0,952.8 876.0,952.3 878.0,951.7 C880.0,951.2 882.0,950.7 884.0,950.2 C886.0,949.7 888.0,949.2 890.0,948.7 C892.0,948.3 894.0,947.8 896.0,947.3 C898.0,946.9 900.0,946.4 902.0,946.0 C904.0,945.5 906.0,945.1 908.0,944.7 C910.0,944.3 912.0,943.9 914.0,943.5 C916.0,943.1 918.0,942.7 920.0,942.3 C922.0,942.0 924.0,941.6 926.0,941.3 C928.0,940.9 930.0,940.6 932.0,940.3 C934.0,939.9 936.0,939.6 938.0,939.3 C940.0,939.0 942.0,938.7 944.0,938.5 C946.0,938.2 948.0,937.9 950.0,937.7 C952.0,937.5 954.0,937.2 956.0,937.0 C958.0,936.8 960.0,936.6 962.0,936.4 C964.0,936.2 966.0,936.0 968.0,935.9 C970.0,935.7 972.0,935.6 974.0,935.4 C976.0,935.3 978.0,935.2 980.0,935.1 C982.0,935.0 984.0,934.9 986.0,934.8 C988.0,934.7 990.0,934.7 992.0,934.6 C994.0,934.6 996.0,934.5 998.0,934.5 C1000.0,934.5 1002.0,934.5 1004.0,934.5 C1006.0,934.6 1008.0,934.6 1010.0,934.6 C1012.0,934.7 1014.0,934.8 1016.0,934.8 C1018.0,934.9 1020.0,935.0 1022.0,935.1 C1024.0,935.3 1026.0,935.4 1028.0,935.6 C1030.0,935.7 1032.0,935.9 1034.0,936.1 C1036.0,936.3 1038.0,936.5 1040.0,936.7 C1042.0,936.9 1044.0,937.1 1046.0,937.4 C1048.0,937.6 1050.0,937.9 1052.0,938.2 C1054.0,938.5 1056.0,938.8 1058.0,939.1 C1060.0,939.4 1062.0,939.7 1064.0,940.1 C1066.0,940.4 1068.0,940.8 1070.0,941.1 C1072.0,941.5 1074.0,941.9 1076.0,942.3 C1078.0,942.7 1080.0,943.1 1082.0,943.5 C1084.0,943.9 1086.0,944.3 1088.0,944.8 C1090.0,945.2 1092.0,945.6 1094.0,946.1 C1096.0,946.5 1098.0,947.0 1100.0,947.5 C1102.0,948.0 1104.0,948.4 1106.0,948.9 C1108.0,949.4 1110.0,949.9 1112.0,950.4 C1114.0,950.9 1116.0,951.4 1118.0,951.9 C1120.0,952.5 1122.0,953.0 1124.0,953.5 C1126.0,954.0 1128.0,954.6 1130.0,955.1 C1132.0,955.7 1134.0,956.2 1136.0,956.8 C1138.0,957.3 1140.0,957.9 1142.0,958.4 C1144.0,959.0 1146.0,959.5 1148.0,960.1 C1150.0,960.7 1152.0,961.2 1154.0,961.8 C1156.0,962.4 1158.0,962.9 1160.0,963.5 C1162.0,964.1 1164.0,964.7 1166.0,965.3 C1168.0,965.9 1170.0,966.4 1172.0,967.0 C1174.0,967.6 1176.0,968.2 1178.0,968.8 C1180.0,969.4 1182.0,970.0 1184.0,970.6 C1186.0,971.2 1188.0,971.8 1190.0,972.4 C1192.0,973.0 1194.0,973.6 1196.0,974.2 C1198.0,974.8 1200.0,975.4 1202.0,976.0 C1204.0,976.5 1206.0,977.1 1208.0,977.7 C1210.0,978.3 1212.0,978.9 1214.0,979.5 C1216.0,980.1 1218.0,980.7 1220.0,981.3 C1222.0,981.9 1224.0,982.5 1226.0,983.1 C1228.0,983.7 1230.0,984.3 1232.0,984.9 C1234.0,985.4 1236.0,986.0 1238.0,986.6 C1240.0,987.2 1242.0,987.8 1244.0,988.3 C1246.0,988.9 1248.0,989.5 1250.0,990.1 C1252.0,990.6 1254.0,991.2 1256.0,991.8 C1258.0,992.3 1260.0,992.9 1262.0,993.4 C1264.0,994.0 1266.0,994.5 1268.0,995.1 C1270.0,995.6 1272.0,996.2 1274.0,996.7 C1276.0,997.2 1278.0,997.8 1280.0,998.3 C1282.0,998.8 1284.0,999.3 1286.0,999.8 C1288.0,1000.3 1290.0,1000.8 1292.0,1001.3 C1294.0,1001.8 1296.0,1002.3 1298.0,1002.8 C1300.0,1003.3 1302.0,1003.8 1304.0,1004.3 C1306.0,1004.7 1308.0,1005.2 1310.0,1005.6 C1312.0,1006.1 1314.0,1006.5 1316.0,1007.0 C1318.0,1007.4 1320.0,1007.9 1322.0,1008.3 C1324.0,1008.7 1326.0,1009.1 1328.0,1009.5 C1330.0,1009.9 1332.0,1010.3 1334.0,1010.7 C1336.0,1011.1 1338.0,1011.5 1340.0,1011.9 C1342.0,1012.3 1344.0,1012.6 1346.0,1013.0 C1348.0,1013.4 1350.0,1013.7 1352.0,1014.1 C1354.0,1014.4 1356.0,1014.8 1358.0,1015.1 C1360.0,1015.5 1362.0,1015.8 1364.0,1016.1 C1366.0,1016.4 1368.0,1016.8 1370.0,1017.1 C1372.0,1017.4 1374.0,1017.7 1376.0,1018.0 C1378.0,1018.3 1380.0,1018.6 1382.0,1018.9 C1384.0,1019.2 1386.0,1019.4 1388.0,1019.7 C1390.0,1020.0 1392.0,1020.3 1394.0,1020.5 C1396.0,1020.8 1398.0,1021.1 1400.0,1021.3 C1402.0,1021.6 1404.0,1021.8 1406.0,1022.1 C1408.0,1022.3 1410.0,1022.5 1412.0,1022.8 C1414.0,1023.0 1416.0,1023.2 1418.0,1023.5 C1420.0,1023.7 1422.0,1023.9 1424.0,1024.1 C1426.0,1024.3 1428.0,1024.5 1430.0,1024.8 C1432.0,1025.0 1434.0,1025.2 1436.0,1025.4 C1438.0,1025.6 1440.0,1025.8 1442.0,1025.9 C1444.0,1026.1 1446.0,1026.3 1448.0,1026.5 C1450.0,1026.7 1452.0,1026.9 1454.0,1027.0 C1456.0,1027.2 1458.0,1027.4 1460.0,1027.6 C1462.0,1027.7 1464.0,1027.9 1466.0,1028.1 C1468.0,1028.2 1470.0,1028.4 1472.0,1028.5 C1474.0,1028.7 1476.0,1028.8 1478.0,1029.0 C1480.0,1029.2 1482.0,1029.3 1484.0,1029.4 C1486.0,1029.6 1488.0,1029.7 1490.0,1029.9 C1492.0,1030.0 1494.0,1030.2 1496.0,1030.3 C1498.0,1030.4 1500.0,1030.6 1502.0,1030.7 C1504.0,1030.8 1506.0,1031.0 1508.0,1031.1 C1510.0,1031.2 1512.0,1031.3 1514.0,1031.5 C1516.0,1031.6 1518.0,1031.7 1520.0,1031.8 C1522.0,1032.0 1524.0,1032.1 1526.0,1032.2 C1528.0,1032.3 1530.0,1032.4 1532.0,1032.6 C1534.0,1032.7 1536.0,1032.8 1538.0,1032.9 C1540.0,1033.0 1542.0,1033.1 1544.0,1033.2 C1546.0,1033.4 1548.0,1033.5 1550.0,1033.6 C1552.0,1033.7 1554.0,1033.8 1556.0,1033.9 C1558.0,1034.0 1560.0,1034.2 1562.0,1034.3 C1564.0,1034.4 1567.0,1034.5 1568.0,1034.6" fill="none" stroke="#00C5CA" stroke-width="11" stroke-linejoin="round" stroke-linecap="butt"/>
<path d="M158.0,1250.7 C161.5,1250.7 171.4,1250.7 178.9,1250.5 C186.4,1250.3 194.8,1249.9 202.8,1249.5 C210.8,1249.1 218.8,1248.7 226.8,1248.1 C234.8,1247.5 244.7,1246.6 250.7,1245.7 C256.7,1244.8 259.5,1243.9 262.7,1242.9 C265.9,1241.9 267.5,1242.2 269.8,1239.7 C272.1,1237.2 274.8,1231.8 276.4,1227.8 C278.0,1223.8 278.4,1219.4 279.6,1215.8 C280.8,1212.2 281.6,1208.8 283.6,1206.2 C285.6,1203.7 287.9,1201.0 291.4,1200.5 C294.9,1200.0 300.3,1202.6 304.5,1203.1 C308.7,1203.5 312.5,1204.0 316.5,1203.2 C320.5,1202.4 324.6,1199.4 328.4,1198.1 C332.2,1196.8 335.8,1195.5 339.2,1195.3 C342.6,1195.1 345.4,1196.3 348.8,1196.7 C352.2,1197.1 355.0,1197.7 359.4,1197.5 C363.8,1197.3 369.3,1196.9 374.9,1195.6 C380.5,1194.3 386.8,1191.9 392.8,1189.9 C398.8,1187.9 404.8,1185.3 410.8,1183.7 C416.8,1182.1 423.3,1180.7 428.7,1180.2 C434.1,1179.7 438.1,1180.0 443.1,1180.8 C448.1,1181.6 453.0,1183.7 458.6,1185.1 C464.2,1186.5 469.6,1188.4 476.6,1189.3 C483.6,1190.2 492.5,1190.3 500.5,1190.5 C508.5,1190.7 518.6,1190.6 524.4,1190.5 C530.1,1190.4 529.2,1190.2 535.0,1190.1 C540.8,1189.9 552.3,1189.9 558.9,1189.6 C565.5,1189.3 568.5,1188.4 574.5,1188.5 C580.5,1188.6 588.4,1189.6 594.8,1190.1 C601.2,1190.6 604.8,1191.2 612.8,1191.3 C620.8,1191.4 636.5,1190.5 642.7,1190.5 C648.9,1190.5 647.8,1191.4 650.0,1191.6 C652.2,1191.8 654.0,1191.6 656.0,1191.6 C658.0,1191.6 660.0,1191.6 662.0,1191.6 C664.0,1191.5 666.0,1191.5 668.0,1191.5 C670.0,1191.4 672.0,1191.4 674.0,1191.3 C676.0,1191.3 678.0,1191.2 680.0,1191.1 C682.0,1191.1 684.0,1191.0 686.0,1190.9 C688.0,1190.8 690.0,1190.7 692.0,1190.6 C694.0,1190.5 696.0,1190.4 698.0,1190.2 C700.0,1190.1 702.0,1190.0 704.0,1189.8 C706.0,1189.7 708.0,1189.5 710.0,1189.3 C712.0,1189.2 714.0,1189.0 716.0,1188.8 C718.0,1188.6 720.0,1188.4 722.0,1188.2 C724.0,1188.0 726.0,1187.8 728.0,1187.5 C730.0,1187.3 732.0,1187.1 734.0,1186.8 C736.0,1186.6 738.0,1186.3 740.0,1186.0 C742.0,1185.7 744.0,1185.5 746.0,1185.2 C748.0,1184.9 750.0,1184.6 752.0,1184.3 C754.0,1184.0 756.0,1183.7 758.0,1183.3 C760.0,1183.0 762.0,1182.7 764.0,1182.4 C766.0,1182.0 768.0,1181.7 770.0,1181.4 C772.0,1181.0 774.0,1180.7 776.0,1180.3 C778.0,1180.0 780.0,1179.6 782.0,1179.3 C784.0,1178.9 786.0,1178.5 788.0,1178.2 C790.0,1177.8 792.0,1177.5 794.0,1177.1 C796.0,1176.7 798.0,1176.4 800.0,1176.0 C802.0,1175.6 804.0,1175.3 806.0,1174.9 C808.0,1174.5 810.0,1174.2 812.0,1173.8 C814.0,1173.5 816.0,1173.1 818.0,1172.8 C820.0,1172.4 822.0,1172.0 824.0,1171.7 C826.0,1171.4 828.0,1171.0 830.0,1170.7 C832.0,1170.3 834.0,1170.0 836.0,1169.7 C838.0,1169.3 840.0,1169.0 842.0,1168.7 C844.0,1168.4 846.0,1168.1 848.0,1167.8 C850.0,1167.5 852.0,1167.2 854.0,1166.9 C856.0,1166.6 858.0,1166.3 860.0,1166.1 C862.0,1165.8 864.0,1165.6 866.0,1165.3 C868.0,1165.1 870.0,1164.8 872.0,1164.6 C874.0,1164.4 876.0,1164.1 878.0,1163.9 C880.0,1163.7 882.0,1163.5 884.0,1163.3 C886.0,1163.1 888.0,1162.9 890.0,1162.7 C892.0,1162.6 894.0,1162.4 896.0,1162.2 C898.0,1162.1 900.0,1161.9 902.0,1161.8 C904.0,1161.6 906.0,1161.5 908.0,1161.3 C910.0,1161.2 912.0,1161.1 914.0,1161.0 C916.0,1160.8 918.0,1160.7 920.0,1160.6 C922.0,1160.5 924.0,1160.4 926.0,1160.4 C928.0,1160.3 930.0,1160.2 932.0,1160.1 C934.0,1160.1 936.0,1160.0 938.0,1160.0 C940.0,1159.9 942.0,1159.9 944.0,1159.8 C946.0,1159.8 948.0,1159.7 950.0,1159.7 C952.0,1159.7 954.0,1159.7 956.0,1159.7 C958.0,1159.7 960.0,1159.7 962.0,1159.7 C964.0,1159.7 966.0,1159.7 968.0,1159.7 C970.0,1159.7 972.0,1159.7 974.0,1159.8 C976.0,1159.8 978.0,1159.9 980.0,1159.9 C982.0,1159.9 984.0,1160.0 986.0,1160.1 C988.0,1160.1 990.0,1160.2 992.0,1160.3 C994.0,1160.3 996.0,1160.4 998.0,1160.5 C1000.0,1160.6 1002.0,1160.7 1004.0,1160.8 C1006.0,1160.9 1008.0,1161.0 1010.0,1161.1 C1012.0,1161.2 1014.0,1161.3 1016.0,1161.5 C1018.0,1161.6 1020.0,1161.7 1022.0,1161.8 C1024.0,1162.0 1026.0,1162.1 1028.0,1162.3 C1030.0,1162.4 1032.0,1162.6 1034.0,1162.7 C1036.0,1162.9 1038.0,1163.1 1040.0,1163.2 C1042.0,1163.4 1044.0,1163.6 1046.0,1163.8 C1048.0,1164.0 1050.0,1164.2 1052.0,1164.3 C1054.0,1164.5 1056.0,1164.7 1058.0,1165.0 C1060.0,1165.2 1062.0,1165.4 1064.0,1165.6 C1066.0,1165.8 1068.0,1166.0 1070.0,1166.3 C1072.0,1166.5 1074.0,1166.7 1076.0,1167.0 C1078.0,1167.2 1080.0,1167.4 1082.0,1167.7 C1084.0,1167.9 1086.0,1168.2 1088.0,1168.4 C1090.0,1168.7 1092.0,1169.0 1094.0,1169.2 C1096.0,1169.5 1098.0,1169.8 1100.0,1170.0 C1102.0,1170.3 1104.0,1170.6 1106.0,1170.9 C1108.0,1171.1 1110.0,1171.4 1112.0,1171.7 C1114.0,1172.0 1116.0,1172.3 1118.0,1172.6 C1120.0,1172.9 1122.0,1173.2 1124.0,1173.5 C1126.0,1173.8 1128.0,1174.1 1130.0,1174.4 C1132.0,1174.7 1134.0,1175.0 1136.0,1175.3 C1138.0,1175.6 1140.0,1175.9 1142.0,1176.2 C1144.0,1176.5 1146.0,1176.9 1148.0,1177.2 C1150.0,1177.5 1152.0,1177.8 1154.0,1178.1 C1156.0,1178.4 1158.0,1178.8 1160.0,1179.1 C1162.0,1179.4 1164.0,1179.7 1166.0,1180.0 C1168.0,1180.4 1170.0,1180.7 1172.0,1181.0 C1174.0,1181.3 1176.0,1181.6 1178.0,1182.0 C1180.0,1182.3 1182.0,1182.6 1184.0,1182.9 C1186.0,1183.3 1188.0,1183.6 1190.0,1183.9 C1192.0,1184.2 1194.0,1184.5 1196.0,1184.9 C1198.0,1185.2 1200.0,1185.5 1202.0,1185.8 C1204.0,1186.1 1206.0,1186.4 1208.0,1186.8 C1210.0,1187.1 1212.0,1187.4 1214.0,1187.7 C1216.0,1188.0 1218.0,1188.3 1220.0,1188.6 C1222.0,1188.9 1224.0,1189.2 1226.0,1189.5 C1228.0,1189.8 1230.0,1190.1 1232.0,1190.4 C1234.0,1190.7 1236.0,1191.0 1238.0,1191.3 C1240.0,1191.6 1242.0,1191.9 1244.0,1192.2 C1246.0,1192.5 1248.0,1192.8 1250.0,1193.0 C1252.0,1193.3 1254.0,1193.6 1256.0,1193.9 C1258.0,1194.1 1260.0,1194.4 1262.0,1194.7 C1264.0,1194.9 1266.0,1195.2 1268.0,1195.5 C1270.0,1195.7 1272.0,1196.0 1274.0,1196.2 C1276.0,1196.5 1278.0,1196.7 1280.0,1196.9 C1282.0,1197.2 1284.0,1197.4 1286.0,1197.6 C1288.0,1197.9 1290.0,1198.1 1292.0,1198.3 C1294.0,1198.5 1296.0,1198.7 1298.0,1198.9 C1300.0,1199.1 1302.0,1199.3 1304.0,1199.5 C1306.0,1199.7 1308.0,1199.9 1310.0,1200.1 C1312.0,1200.3 1314.0,1200.4 1316.0,1200.6 C1318.0,1200.8 1320.0,1200.9 1322.0,1201.1 C1324.0,1201.2 1326.0,1201.4 1328.0,1201.5 C1330.0,1201.7 1332.0,1201.8 1334.0,1202.0 C1336.0,1202.1 1338.0,1202.2 1340.0,1202.3 C1342.0,1202.5 1344.0,1202.6 1346.0,1202.7 C1348.0,1202.8 1350.0,1202.9 1352.0,1203.0 C1354.0,1203.1 1356.0,1203.2 1358.0,1203.3 C1360.0,1203.4 1362.0,1203.5 1364.0,1203.6 C1366.0,1203.7 1368.0,1203.8 1370.0,1203.8 C1372.0,1203.9 1374.0,1204.0 1376.0,1204.0 C1378.0,1204.1 1380.0,1204.2 1382.0,1204.2 C1384.0,1204.3 1386.0,1204.4 1388.0,1204.4 C1390.0,1204.5 1392.0,1204.5 1394.0,1204.6 C1396.0,1204.6 1398.0,1204.7 1400.0,1204.7 C1402.0,1204.8 1404.0,1204.8 1406.0,1204.8 C1408.0,1204.9 1410.0,1204.9 1412.0,1204.9 C1414.0,1205.0 1416.0,1205.0 1418.0,1205.0 C1420.0,1205.0 1422.0,1205.1 1424.0,1205.1 C1426.0,1205.1 1428.0,1205.1 1430.0,1205.1 C1432.0,1205.2 1434.0,1205.2 1436.0,1205.2 C1438.0,1205.2 1440.0,1205.2 1442.0,1205.2 C1444.0,1205.2 1446.0,1205.2 1448.0,1205.3 C1450.0,1205.3 1452.0,1205.3 1454.0,1205.3 C1456.0,1205.3 1458.0,1205.3 1460.0,1205.3 C1462.0,1205.3 1464.0,1205.3 1466.0,1205.3 C1468.0,1205.3 1470.0,1205.3 1472.0,1205.3 C1474.0,1205.3 1476.0,1205.3 1478.0,1205.3 C1480.0,1205.3 1482.0,1205.3 1484.0,1205.3 C1486.0,1205.3 1488.0,1205.3 1490.0,1205.3 C1492.0,1205.3 1494.0,1205.3 1496.0,1205.3 C1498.0,1205.3 1500.0,1205.3 1502.0,1205.3 C1504.0,1205.3 1506.0,1205.3 1508.0,1205.3 C1510.0,1205.3 1512.0,1205.3 1514.0,1205.3 C1516.0,1205.3 1518.0,1205.3 1520.0,1205.3 C1522.0,1205.3 1524.0,1205.3 1526.0,1205.3 C1528.0,1205.3 1530.0,1205.4 1532.0,1205.4 C1534.0,1205.4 1536.0,1205.4 1538.0,1205.4 C1540.0,1205.4 1542.0,1205.4 1544.0,1205.5 C1546.0,1205.5 1548.0,1205.5 1550.0,1205.5 C1552.0,1205.5 1554.0,1205.6 1556.0,1205.6 C1558.0,1205.6 1560.0,1205.7 1562.0,1205.7 C1564.0,1205.7 1567.0,1205.8 1568.0,1205.8" fill="none" stroke="#48586F" stroke-width="11" stroke-linejoin="round" stroke-linecap="butt"/>
<rect x="963.1" y="158.60" width="9.7" height="16.5" rx="4" ry="4" fill="#000"/>
<rect x="963.1" y="206.76" width="9.7" height="16.5" rx="4" ry="4" fill="#000"/>
<rect x="963.1" y="254.92" width="9.7" height="16.5" rx="4" ry="4" fill="#000"/>
<rect x="963.1" y="303.08" width="9.7" height="16.5" rx="4" ry="4" fill="#000"/>
<rect x="963.1" y="351.24" width="9.7" height="16.5" rx="4" ry="4" fill="#000"/>
<rect x="963.1" y="399.40" width="9.7" height="16.5" rx="4" ry="4" fill="#000"/>
<rect x="963.1" y="447.56" width="9.7" height="16.5" rx="4" ry="4" fill="#000"/>
<rect x="963.1" y="495.72" width="9.7" height="16.5" rx="4" ry="4" fill="#000"/>
<rect x="963.1" y="543.88" width="9.7" height="16.5" rx="4" ry="4" fill="#000"/>
<rect x="963.1" y="592.04" width="9.7" height="16.5" rx="4" ry="4" fill="#000"/>
<rect x="963.1" y="640.20" width="9.7" height="16.5" rx="4" ry="4" fill="#000"/>
<rect x="963.1" y="688.36" width="9.7" height="16.5" rx="4" ry="4" fill="#000"/>
<rect x="963.1" y="736.52" width="9.7" height="16.5" rx="4" ry="4" fill="#000"/>
<rect x="963.1" y="784.68" width="9.7" height="16.5" rx="4" ry="4" fill="#000"/>
<rect x="963.1" y="832.84" width="9.7" height="16.5" rx="4" ry="4" fill="#000"/>
<rect x="963.1" y="881.00" width="9.7" height="16.5" rx="4" ry="4" fill="#000"/>
<rect x="963.1" y="929.16" width="9.7" height="16.5" rx="4" ry="4" fill="#000"/>
<rect x="963.1" y="977.32" width="9.7" height="16.5" rx="4" ry="4" fill="#000"/>
<rect x="963.1" y="1025.48" width="9.7" height="16.5" rx="4" ry="4" fill="#000"/>
<rect x="963.1" y="1073.64" width="9.7" height="16.5" rx="4" ry="4" fill="#000"/>
<rect x="963.1" y="1121.80" width="9.7" height="16.5" rx="4" ry="4" fill="#000"/>
<rect x="963.1" y="1169.96" width="9.7" height="16.5" rx="4" ry="4" fill="#000"/>
<rect x="963.1" y="1218.12" width="9.7" height="16.5" rx="4" ry="4" fill="#000"/>
<line x1="215.5" y1="73.5" x2="215.5" y2="224.4" stroke="#000" stroke-width="11" stroke-linecap="round"/>
<g filter="url(#al)">
<text transform="translate(256.84 173.51) scale(0.9684 1)" font-family="'Liberation Serif', 'Times New Roman', serif" font-weight="bold" font-size="69.26">0.2</text>
<text transform="translate(0 185.00) scale(0.967 1)" x="1022.00 1059.48 1100.49 1136.60 1174.47" y="5.50 0.00 0.00 0.00 0.00" font-family="'Liberation Serif', 'Times New Roman', serif" font-weight="bold" font-size="75.30">~3450</text>
<text transform="translate(0 328.80) scale(0.925 1)" x="1513.93 1556.42 1581.81" y="0" font-family="'Liberation Serif', 'Times New Roman', serif" font-weight="bold" font-size="76.00">S-1</text>
<text transform="translate(0 499.10) scale(0.925 1)" x="1406.69 1451.78 1493.38 1532.75 1559.44 1603.02 1628.30" y="0" font-family="'Liberation Serif', 'Times New Roman', serif" font-weight="bold" font-size="76.00">Sn1-S-1</text>
<text transform="translate(0 736.90) scale(0.925 1)" x="1408.85 1454.70 1494.69 1535.88 1562.69 1605.40 1630.68" y="0" font-family="'Liberation Serif', 'Times New Roman', serif" font-weight="bold" font-size="76.00">Sn3-S-1</text>
<text transform="translate(0 970.10) scale(0.925 1)" x="1400.52 1445.07 1487.34 1527.34 1553.71 1596.75 1622.14" y="0" font-family="'Liberation Serif', 'Times New Roman', serif" font-weight="bold" font-size="76.00">Sn6-S-1</text>
<text transform="translate(0 1156.80) scale(0.925 1)" x="1399.23 1443.99 1486.04 1525.18 1552.74 1595.67 1619.97" y="0" font-family="'Liberation Serif', 'Times New Roman', serif" font-weight="bold" font-size="76.00">Sn8-S-1</text>
<text transform="translate(82.41 1451.45) scale(0.9215 1)" font-family="'Liberation Sans', Arial, sans-serif" font-weight="bold" font-size="75.21">3800</text>
<text transform="translate(317.00 1451.45) scale(0.9215 1)" font-family="'Liberation Sans', Arial, sans-serif" font-weight="bold" font-size="75.21">3700</text>
<text transform="translate(551.58 1451.45) scale(0.9215 1)" font-family="'Liberation Sans', Arial, sans-serif" font-weight="bold" font-size="75.21">3600</text>
<text transform="translate(786.16 1451.45) scale(0.9215 1)" font-family="'Liberation Sans', Arial, sans-serif" font-weight="bold" font-size="75.21">3500</text>
<text transform="translate(1020.75 1451.45) scale(0.9215 1)" font-family="'Liberation Sans', Arial, sans-serif" font-weight="bold" font-size="75.21">3400</text>
<text transform="translate(1255.33 1451.45) scale(0.9215 1)" font-family="'Liberation Sans', Arial, sans-serif" font-weight="bold" font-size="75.21">3300</text>
<text transform="translate(1489.91 1451.45) scale(0.9215 1)" font-family="'Liberation Sans', Arial, sans-serif" font-weight="bold" font-size="75.21">3200</text>
<text transform="translate(0 1588) scale(0.92 1)" x="626.09 706.54 745.22 785.78 822.40 868.27 910.01 975.33 1018.50 1055.23 1087.93 1109.47 1146.32" y="0" font-family="'Liberation Serif', 'Times New Roman', serif" font-weight="bold" font-size="75.5">Wavenumber/cm</text>
<text transform="translate(0 1548.30) scale(0.92 1)" x="1209.16 1224.46" y="0" font-family="'Liberation Serif', 'Times New Roman', serif" font-weight="bold" font-size="46.21">-1</text>
<text transform="translate(88 0) rotate(-90) scale(0.92 1)" x="-1105.21 -1041.30 -1001.18 -970.74 -929.77 -892.60 -851.18 -811.29 -766.40 -732.92 -696.82 -669.00 -630.09 -608.47 -565.19 -548.03" y="0" font-family="'Liberation Serif', 'Times New Roman', serif" font-weight="bold" font-size="75.5">Absorbance(a.u.)</text>
</g>
</svg>
</body></html>
